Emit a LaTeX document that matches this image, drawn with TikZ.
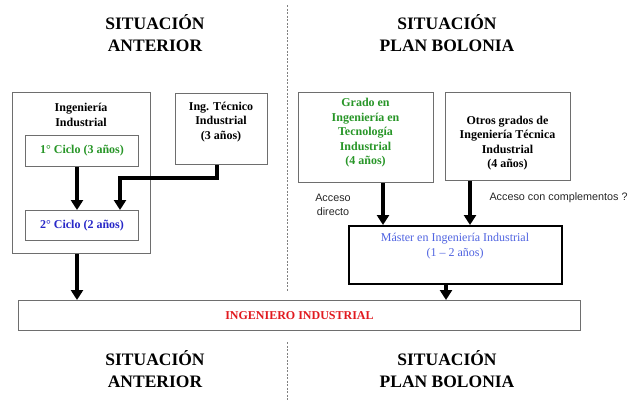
\documentclass[tikz,border=0pt]{standalone}
\usepackage{fontspec}
\setmainfont{Liberation Serif}
\newfontfamily\arialf{Liberation Sans}
\usetikzlibrary{arrows.meta}
\definecolor{grn}{RGB}{40,150,40}
\definecolor{dblue}{RGB}{40,40,200}
\definecolor{lblue}{RGB}{80,100,225}
\definecolor{rd}{RGB}{225,25,30}
\definecolor{bordergray}{RGB}{110,110,110}
\begin{document}
\begin{tikzpicture}[x=1pt,y=-1pt,
  boxs/.style={draw=bordergray,line width=0.9pt,fill=white,inner sep=0pt},
  txt/.style={align=center,font=\fontsize{12}{14.5}\selectfont\bfseries},
  title/.style={align=center,font=\fontsize{17.5}{22.5}\selectfont\bfseries},
  arr/.style={line width=3.6pt,-{Triangle[width=12pt,length=10pt]}},
  lbl/.style={align=center,font=\arialf\fontsize{10.8}{14}\selectfont,text=black!85}]
\useasboundingbox (0,0) rectangle (632,400);
% divider
\draw[gray,dashed,line width=0.6pt,dash pattern=on 2pt off 1.5pt] (287,5) -- (287,292);
\draw[gray,dashed,line width=0.6pt,dash pattern=on 2pt off 1.5pt] (287,342) -- (287,400);
% titles
\node[title] (t1) at (155,33) {SITUACIÓN\\ANTERIOR};
\node[title] (t2) at (447,33) {SITUACIÓN\\PLAN BOLONIA};
\node[title] (t3) at (155,369) {SITUACIÓN\\ANTERIOR};
\node[title] (t4) at (447,369) {SITUACIÓN\\PLAN BOLONIA};
% left side
\node[boxs,minimum width=138pt,minimum height=161pt,anchor=north west] (ii) at (12,92) {};
\node[txt] (iit) at (81,115) {Ingeniería\\Industrial};
\node[boxs,minimum width=113pt,minimum height=31pt,anchor=north west] (c1) at (25,135) {};
\node[txt,text=grn] (c1t) at (c1.center) {1° Ciclo (3 años)};
\node[boxs,minimum width=113pt,minimum height=30pt,anchor=north west] (c2) at (25,210) {};
\node[txt,text=dblue] (c2t) at (c2.center) {2° Ciclo (2 años)};
\node[boxs,minimum width=92pt,minimum height=71pt,anchor=north west] (it) at (175,93) {};
\node[txt] (itt) at (221,122) {Ing. Técnico\\Industrial\\(3 años)};
% right side
\node[boxs,minimum width=135pt,minimum height=90pt,anchor=north west] (gr) at (298,92) {};
\node[txt,text=grn] (grt) at (365.5,133) {Grado en\\Ingeniería en\\Tecnología\\Industrial\\(4 años)};
\node[boxs,minimum width=125pt,minimum height=88pt,anchor=north west] (ot) at (445,92) {};
\node[txt] (ott) at (507.5,143) {Otros grados de\\Ingeniería Técnica\\Industrial\\(4 años)};
\node[draw=black,line width=1.5pt,fill=white,minimum width=213pt,minimum height=58pt,anchor=north west] (ma) at (348,225) {};
\node[align=center,font=\fontsize{12}{14.5}\selectfont,text=lblue] (mat) at (455,246) {Máster en Ingeniería Industrial\\(1 – 2 años)};
\node[lbl] (ad) at (333,205) {Acceso\\directo};
\node[lbl,anchor=west] (ac) at (486,198) {Acceso con complementos ?};
% bottom box
\node[boxs,minimum width=562pt,minimum height=30pt,anchor=north west] (ing) at (18,300) {};
\node[txt,text=rd] (ingt) at (ing.center) {INGENIERO INDUSTRIAL};
% arrows
\draw[arr] (c1.south -| 77,0) -- (c2.north -| 77,0);
\draw[arr] (it.south -| 217,0) |- (120,178) -- (c2.north -| 120,0);
\draw[arr] (ii.south -| 77,0) -- (ing.north -| 77,0);
\draw[arr] (gr.south -| 383,0) -- (ma.north -| 383,0);
\draw[arr] (ot.south -| 470,0) -- (ma.north -| 470,0);
\draw[arr] (ma.south -| 446,0) -- (ing.north -| 446,0);
\end{tikzpicture}
\end{document}
